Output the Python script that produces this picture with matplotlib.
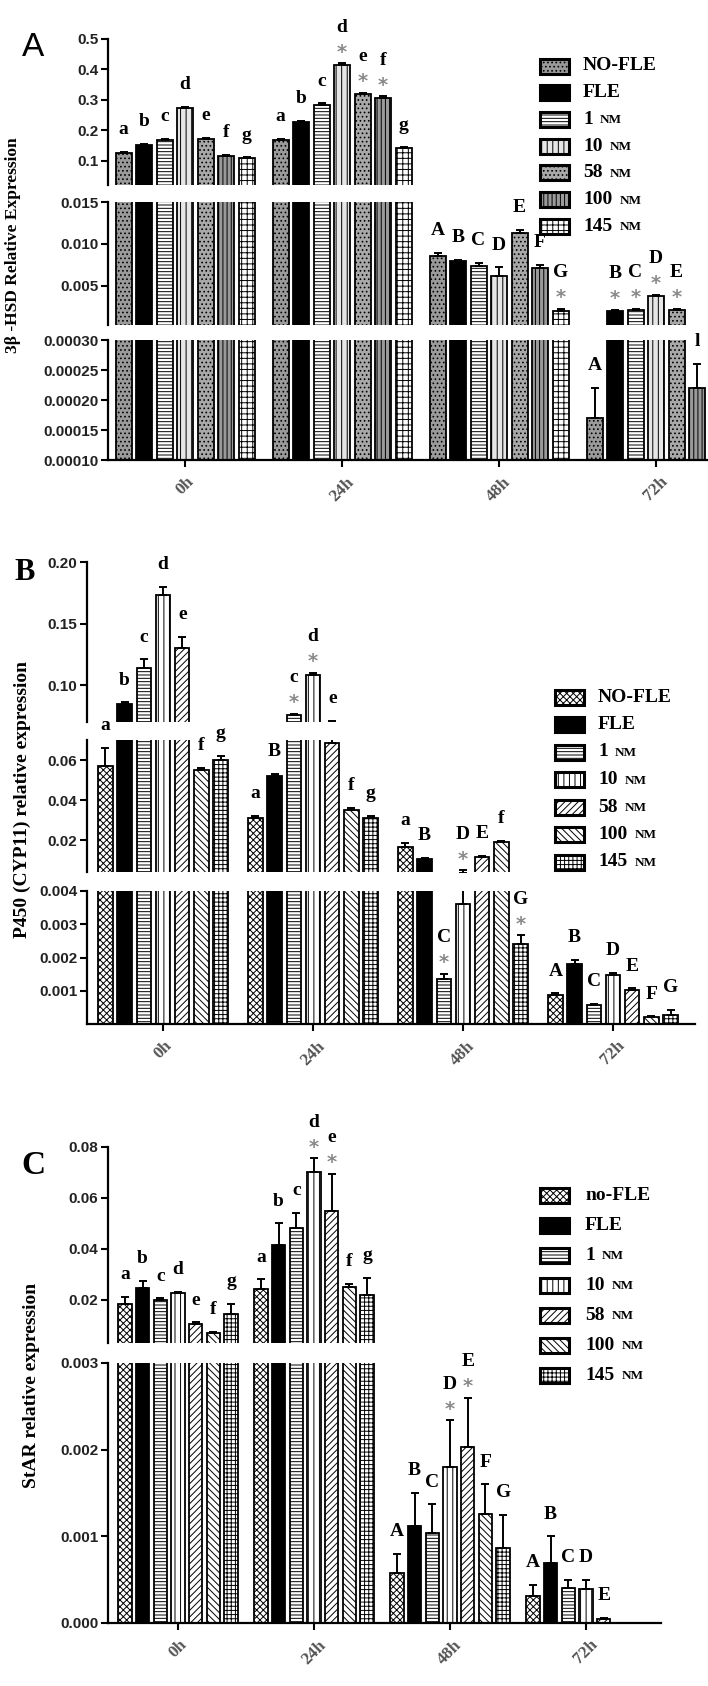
import numpy as np
import matplotlib.pyplot as plt
from matplotlib.patches import Rectangle

plt.rcParams['hatch.linewidth'] = 0.7

# ---- data -------------------------------------------------------------
groups = ['0h', '24h', '48h', '72h']
series_upper = ['NO-FLE', 'FLE', '1 NM', '10 NM', '58 NM', '100 NM', '145 NM']
series_lower = ['no-FLE', 'FLE', '1 NM', '10 NM', '58 NM', '100 NM', '145 NM']

# panel A: 3beta-HSD (rows = time point, cols = treatment)
hsd_vals = [[0.125, 0.152, 0.168, 0.273, 0.170, 0.115, 0.108],
            [0.168, 0.226, 0.284, 0.414, 0.318, 0.306, 0.140],
            [0.0086, 0.0079, 0.0073, 0.0062, 0.0113, 0.0071, 0.0020],
            [0.00017, 0.0020, 0.0021, 0.0038, 0.0021, 0.00022, np.nan]]
hsd_errs = [[0.004, 0.003, 0.004, 0.005, 0.004, 0.003, 0.003],
            [0.004, 0.004, 0.004, 0.006, 0.005, 0.005, 0.004],
            [0.0003, 0.0002, 0.0004, 0.0010, 0.0004, 0.0004, 0.0002],
            [0.00005, 0.0001, 0.0001, 0.0001, 0.0001, 0.00004, 0.0]]
hsd_letters = [list('abcdefg'), list('abcdefg'), list('ABCDEFG'),
               ['A', 'B', 'C', 'D', 'E', 'l', '']]
hsd_stars = [[0] * 7, [0, 0, 0, 1, 1, 1, 0], [0, 0, 0, 0, 0, 0, 1],
             [0, 1, 1, 1, 1, 0, 0]]
hsd_ticks = [[0.1, 0.2, 0.3, 0.4, 0.5], [0.005, 0.010, 0.015],
             [0.0001, 0.00015, 0.0002, 0.00025, 0.0003]]
hsd_ticklabels = [['0.1', '0.2', '0.3', '0.4', '0.5'],
                  ['0.005', '0.010', '0.015'],
                  ['0.00010', '0.00015', '0.00020', '0.00025', '0.00030']]

# panel B: P450 (CYP11)
cyp_vals = [[0.057, 0.085, 0.114, 0.173, 0.130, 0.055, 0.060],
            [0.031, 0.052, 0.0757, 0.108, 0.0685, 0.035, 0.031],
            [0.0165, 0.0105, 0.00136, 0.0036, 0.0115, 0.019, 0.00242],
            [0.00088, 0.0018, 0.00058, 0.00148, 0.00103, 0.0002, 0.00027]]
cyp_errs = [[0.009, 0.001, 0.007, 0.007, 0.009, 0.001, 0.002],
            [0.001, 0.001, 0.001, 0.002, 0.0025, 0.001, 0.001],
            [0.002, 0.0005, 0.00015, 0.0012, 0.0007, 0.0007, 0.00025],
            [0.00004, 0.00012, 0.00003, 0.00005, 0.00004, 0.00003, 0.00015]]
cyp_letters = [list('abcdefg'), ['a', 'B', 'c', 'd', 'e', 'f', 'g'],
               ['a', 'B', 'C', 'D', 'E', 'f', 'G'], list('ABCDEFG')]
cyp_stars = [[0] * 7, [0, 0, 1, 1, 0, 0, 0], [0, 0, 1, 1, 0, 0, 1], [0] * 7]
cyp_ticks = [[0.10, 0.15, 0.20], [0.02, 0.04, 0.06],
             [0.001, 0.002, 0.003, 0.004]]
cyp_ticklabels = [['0.10', '0.15', '0.20'], ['0.02', '0.04', '0.06'],
                  ['0.001', '0.002', '0.003', '0.004']]

# panel C: StAR
star_vals = [[0.0185, 0.0247, 0.0197, 0.0228, 0.0106, 0.0070, 0.0145],
             [0.0243, 0.0416, 0.048, 0.070, 0.055, 0.025, 0.022],
             [0.00058, 0.00112, 0.00104, 0.0018, 0.00203, 0.00126, 0.00087],
             [0.00031, 0.00069, 0.0004, 0.00039, 0.00005, 0.0, 0.0]]
star_errs = [[0.0025, 0.0028, 0.0008, 0.0003, 0.0005, 0.0004, 0.004],
             [0.0037, 0.0084, 0.006, 0.0055, 0.0145, 0.0012, 0.0065],
             [0.00022, 0.00038, 0.00033, 0.00054, 0.00057, 0.00034, 0.00038],
             [0.00013, 0.00031, 0.0001, 0.00011, 0.00001, 0.0, 0.0]]
star_letters = [list('abcdefg'), list('abcdefg'), list('ABCDEFG'),
                ['A', 'B', 'C', 'D', 'E', '', '']]
star_stars = [[0] * 7, [0, 0, 0, 1, 1, 0, 0], [0, 0, 0, 1, 1, 0, 0], [0] * 7]
star_ticks = [[0.02, 0.04, 0.06, 0.08], [0.0, 0.001, 0.002, 0.003]]
star_ticklabels = [['0.02', '0.04', '0.06', '0.08'],
                   ['0.000', '0.001', '0.002', '0.003']]

# ---- styles -----------------------------------------------------------
style_a = [('#9a9a9a', '....'), ('black', ''), ('white', '-----'),
           ('#e6e6e6', '|||'), ('#a8a8a8', '....'), ('#9a9a9a', '||||'),
           ('white', '+++')]
style_bc = [('white', 'xxxxx'), ('black', ''), ('white', '-----'),
            ('white', '|||'), ('white', '/////'), ('white', '\\\\\\\\\\'),
            ('white', '++++')]

W, H = 708, 1686
fig = plt.figure(figsize=(W / 100, H / 100), dpi=100)

SERIF = 'Liberation Serif'
SANS = 'Liberation Sans'


def px_axes(x0, y0, x1, y1):
    return fig.add_axes([x0 / W, 1 - y1 / H, (x1 - x0) / W, (y1 - y0) / H])


def draw_panel(cfg, vals, errs, letters, stars, ticks, ticklabels, styles):
    vals = np.array(vals, float)
    errs = np.array(errs, float)
    gp = cfg['group_px']
    step = cfg['bar_px'] / gp
    bw = cfg['bar_w_px'] / gp
    xl = ((cfg['x0'] - cfg['c0']) / gp, (cfg['x1'] - cfg['c0']) / gp)
    segs = cfg['segs']
    axes = []
    for k, (y0, y1, lo, hi) in enumerate(segs):
        ax = px_axes(cfg['x0'], y0, cfg['x1'], y1)
        ax.patch.set_visible(False)
        for j in range(7):
            xs = np.arange(4) + (j - 3) * step
            v, e = vals[:, j], errs[:, j]
            ok = np.isfinite(v)
            ax.bar(xs[ok], v[ok], width=bw, facecolor=styles[j][0],
                   hatch=styles[j][1], edgecolor='black', linewidth=1.3)
            # only error bars whose tip falls inside this segment
            m = ok & (e > 0) & (v + e >= lo) & (v <= hi)
            ax.errorbar(xs[m], v[m], yerr=[np.zeros(m.sum()), e[m]],
                        fmt='none', ecolor='black', elinewidth=1.4,
                        capsize=3, capthick=1.4)
        ax.set_xlim(*xl)
        ax.set_ylim(lo, hi)
        ax.spines[['top', 'right']].set_visible(False)
        ax.spines['left'].set_linewidth(1.6)
        ax.spines['bottom'].set_linewidth(1.6)
        ax.set_yticks(ticks[k])
        ax.set_yticklabels(ticklabels[k], fontsize=11, fontweight='bold',
                           family=SANS, color='#222222')
        ax.tick_params(axis='y', width=1.5, length=5, pad=2)
        if k < len(segs) - 1:
            ax.spines['bottom'].set_visible(False)
            ax.set_xticks([])
        else:
            ax.set_xticks(range(4))
            ax.set_xticklabels(groups, rotation=45, fontsize=12.5,
                               fontweight='bold', family=SERIF,
                               color='#555555')
            ax.tick_params(axis='x', width=1.5, length=5, pad=5)
        axes.append(ax)

    order = sorted(range(len(segs)), key=lambda k: -segs[k][2])
    for i in range(4):
        for j in range(7):
            txt = letters[i][j]
            if not txt:
                continue
            top = vals[i, j] + errs[i, j]
            k = next((k for k in order if segs[k][2] <= top), order[-1])
            ax = axes[k]
            y = min(top, segs[k][3])
            x = i + (j - 3) * step
            if stars[i][j]:
                ax.annotate('*', (x, y), xytext=(0, 8),
                            textcoords='offset points', ha='center',
                            va='center', fontsize=14, color='#8a8a8a',
                            fontweight='bold', annotation_clip=False)
                off = 26
            else:
                off = 16
            ax.annotate(txt, (x, y), xytext=(0, off),
                        textcoords='offset points', ha='center', va='center',
                        fontsize=14, family=SERIF, fontweight='bold',
                        annotation_clip=False)
    return axes


cfg_a = dict(x0=108, x1=707, c0=185, group_px=157, bar_px=20.5, bar_w_px=16,
             segs=[(39, 185, 0.02, 0.5), (202, 325, 0.0003, 0.015),
                   (340, 460, 0.0001, 0.0003)])
cfg_b = dict(x0=87, x1=695, c0=163, group_px=150, bar_px=19.2, bar_w_px=14.5,
             segs=[(562, 722, 0.07, 0.20), (740, 872, 0.004, 0.07),
                   (891, 1024, 0.0, 0.004)])
cfg_c = dict(x0=108, x1=661, c0=178, group_px=136, bar_px=17.7, bar_w_px=13.5,
             segs=[(1147, 1343, 0.003, 0.08), (1363, 1623, 0.0, 0.003)])

draw_panel(cfg_a, hsd_vals, hsd_errs, hsd_letters, hsd_stars,
           hsd_ticks, hsd_ticklabels, style_a)
draw_panel(cfg_b, cyp_vals, cyp_errs, cyp_letters, cyp_stars,
           cyp_ticks, cyp_ticklabels, style_bc)
draw_panel(cfg_c, star_vals, star_errs, star_letters, star_stars,
           star_ticks, star_ticklabels, style_bc)

# ---- overlay: legends, axis titles, panel letters ----------------------
ov = fig.add_axes([0, 0, 1, 1])
ov.set_xlim(0, W)
ov.set_ylim(H, 0)
ov.axis('off')
renderer = fig.canvas.get_renderer()


def draw_legend(names, styles, px, tx, y0, dy, pw=29, ph=15):
    for k, name in enumerate(names):
        y = y0 + k * dy
        ov.add_patch(Rectangle((px, y - ph / 2), pw, ph, facecolor=styles[k][0],
                               hatch=styles[k][1], edgecolor='black',
                               linewidth=2.2))
        parts = name.split(' ')
        t = ov.text(tx, y, parts[0], ha='left', va='center', family=SERIF,
                    fontweight='bold', fontsize=14)
        if len(parts) > 1:
            bb = t.get_window_extent(renderer=renderer)
            ov.text(bb.x1 + 7, y + 1, parts[1], ha='left', va='center',
                    family=SERIF, fontweight='bold', fontsize=9.5)


draw_legend(series_upper, style_a, 540, 583, 66, 26.7)
draw_legend(series_upper, style_bc, 555, 598, 697, 27.5)
draw_legend(series_lower, style_bc, 540, 585, 1195, 30)

ov.text(13, 245, '3β -HSD Relative Expression', rotation=90, ha='center',
        va='center', family=SERIF, fontweight='bold', fontsize=12.5)
ov.text(22, 800, 'P450 (CYP11) relative expression', rotation=90,
        ha='center', va='center', family=SERIF, fontweight='bold', fontsize=14)
ov.text(32, 1385, 'StAR relative expression', rotation=90, ha='center',
        va='center', family=SERIF, fontweight='bold', fontsize=14)

ov.text(33, 48, 'A', ha='center', va='center', family=SANS, fontsize=24)
ov.text(25, 573, 'B', ha='center', va='center', family=SERIF,
        fontweight='bold', fontsize=22)
ov.text(33, 1165, 'C', ha='center', va='center', family=SERIF,
        fontweight='bold', fontsize=24)

fig.savefig('out.png', dpi=100)
